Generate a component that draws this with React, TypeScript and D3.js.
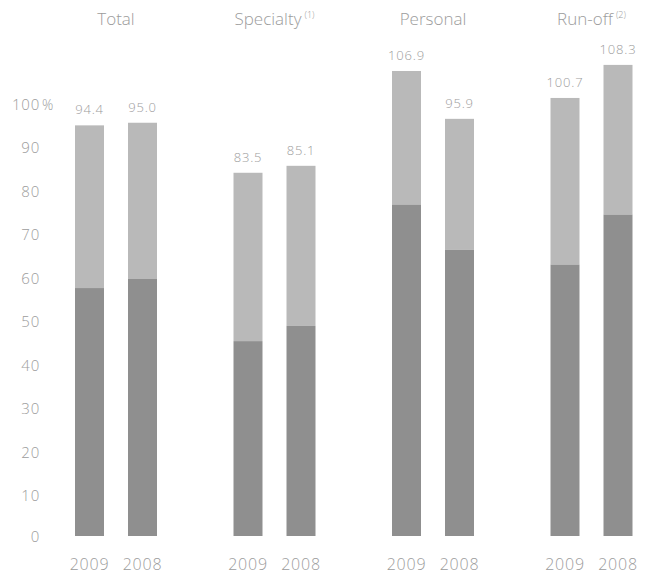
import React from "react";
import * as d3 from "d3";

const groups = ["Total", "Specialty", "Personal", "Run-off"];
const notes = ["", "(1)", "", "(2)"];
const years = ["2009", "2008"];
const total2009 = [94.4, 83.5, 106.9, 100.7];
const total2008 = [95.0, 85.1, 95.9, 108.3];
const lower2009 = [57.0, 44.8, 76.2, 62.4];
const lower2008 = [59.1, 48.3, 65.8, 73.9];
const yTicks = [0, 10, 20, 30, 40, 50, 60, 70, 80, 90, 100];

const W = 646;
const H = 575;
const FONT = "'Open Sans', 'DejaVu Sans', sans-serif";
const TEXT = "#9c9c9c";
const DARK = "#8f8f8f";
const LIGHT = "#b9b9b9";

export default function App() {
  const y = d3.scaleLinear().domain([0, 100]).range([536, 101]);
  const xGroup = d3.scaleBand().domain(groups).range([36.75, 670.75]);
  const xYear = d3
    .scaleBand()
    .domain(years)
    .range([-53, 53])
    .paddingInner(0.453)
    .paddingOuter(0.2264);

  const rows = groups.flatMap((g, i) =>
    years.map((yr) => ({
      group: g,
      year: yr,
      total: yr === "2009" ? total2009[i] : total2008[i],
      lower: yr === "2009" ? lower2009[i] : lower2008[i],
    }))
  );

  const gc = (g: string) => (xGroup(g) as number) + xGroup.bandwidth() / 2;
  const bx = (g: string, yr: string) => gc(g) + (xYear(yr) as number);
  const bw = xYear.bandwidth();

  return (
    <svg
      width={W}
      height={H}
      style={{ position: "absolute", left: 0, top: 0, background: "#fff" }}
      fontFamily={FONT}
    >
      {yTicks.map((t) => (
        <g key={t}>
          <text
            x={40}
            y={y(t) + (t === 0 ? 0 : 2.5) + 6}
            textAnchor="end"
            fontSize={15}
            fontWeight={300}
            fill={TEXT}
            letterSpacing={0.8}
          >
            {t}
          </text>
          {t === 100 && (
            <text x={42} y={y(t) + 2.5 + 6} fontSize={14} fontWeight={300} fill={TEXT}>
              %
            </text>
          )}
        </g>
      ))}

      {groups.map((g, i) => (
        <text
          key={g}
          x={gc(g)}
          y={25}
          textAnchor="middle"
          fontSize={17}
          fontWeight={300}
          fill={TEXT}
        >
          {g}
          {notes[i] && (
            <tspan fontSize={9} dx={3} dy={-7}>
              {notes[i]}
            </tspan>
          )}
        </text>
      ))}

      {rows.map((r) => (
        <g key={r.group + r.year}>
          <rect
            x={bx(r.group, r.year)}
            y={y(r.total)}
            width={bw}
            height={y(r.lower) - y(r.total)}
            fill={LIGHT}
          />
          <rect
            x={bx(r.group, r.year)}
            y={y(r.lower)}
            width={bw}
            height={y(0) - y(r.lower)}
            fill={DARK}
          />
          <text
            x={bx(r.group, r.year) + bw / 2}
            y={y(r.total) - 11}
            textAnchor="middle"
            fontSize={13}
            fontWeight={300}
            fill={TEXT}
            letterSpacing={0.8}
          >
            {d3.format(".1f")(r.total)}
          </text>
          <text
            x={bx(r.group, r.year) + bw / 2}
            y={570}
            textAnchor="middle"
            fontSize={16}
            fontWeight={300}
            fill={TEXT}
            letterSpacing={0.8}
          >
            {r.year}
          </text>
        </g>
      ))}
    </svg>
  );
}
